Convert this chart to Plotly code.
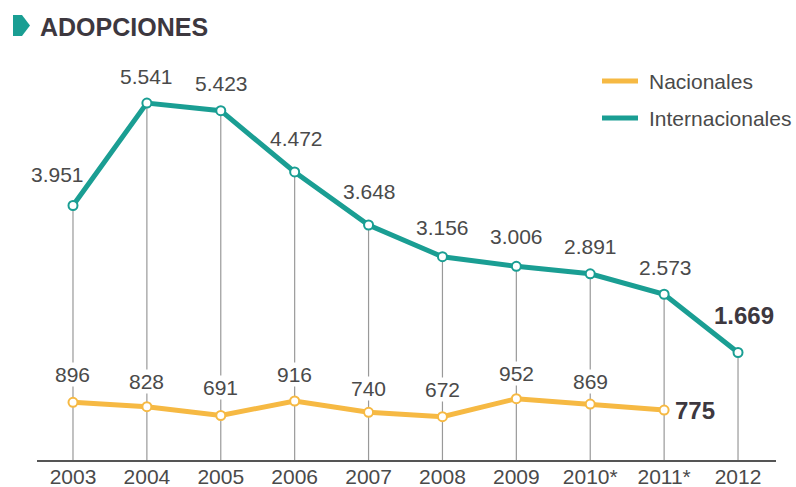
import plotly.graph_objects as go

# ---------------- data ----------------
years = ["2003", "2004", "2005", "2006", "2007", "2008", "2009", "2010*", "2011*", "2012"]
internacionales = [3951, 5541, 5423, 4472, 3648, 3156, 3006, 2891, 2573, 1669]
nacionales = [896, 828, 691, 916, 740, 672, 952, 869, 775, None]

# ---------------- style ----------------
W, H = 796, 487
ML, MR, MT, MB = 37, 20, 40, 27
TEAL = "#1a9e93"
YELLOW = "#f6b943"
TXT = "#4a4a4a"
DARK = "#3d383f"
GRAY = "#999999"
FONT = "Liberation Sans, Arial, Helvetica, sans-serif"
FS = 21

# label offsets (pixels) above each point
int_dy = [31, 27, 27, 33, 34, 29, 30, 27, 27, 37]
int_dx = [-15, 0, 1, 2, 1, 0, 0, 0, 1, 6]
nac_dy = [28, 25, 28, 26, 24, 27, 25, 23, 0]
nac_dx = [0, 0, 0, 0, 0, 0, 0, 0, 31]


def fmt(v):
    return f"{v:,}".replace(",", ".")


def px2x(px):
    return (px - ML) / (W - ML - MR)


def px2y(py):
    return (H - MB - py) / (H - MT - MB)


xs = list(range(len(years)))

fig = go.Figure()

# drop lines from each international point down to the axis
dx, dy = [], []
for i, v in enumerate(internacionales):
    dx += [i, i, None]
    dy += [0, v, None]
fig.add_trace(go.Scatter(x=dx, y=dy, mode="lines",
                         line=dict(color=GRAY, width=1.2), hoverinfo="skip",
                         showlegend=False))

nac_x = [i for i, v in enumerate(nacionales) if v is not None]
nac_y = [v for v in nacionales if v is not None]

fig.add_trace(go.Scatter(x=nac_x, y=nac_y, mode="lines+markers", name="Nacionales",
                         line=dict(color=YELLOW, width=5),
                         marker=dict(size=9, color="white",
                                     line=dict(color=YELLOW, width=2)),
                         showlegend=False))
fig.add_trace(go.Scatter(x=xs, y=internacionales, mode="lines+markers",
                         name="Internacionales",
                         line=dict(color=TEAL, width=5),
                         marker=dict(size=9, color="white",
                                     line=dict(color=TEAL, width=2)),
                         showlegend=False))

ann = []
last_int = len(internacionales) - 1
for i, v in enumerate(internacionales):
    bold = i == last_int
    ann.append(dict(x=i, y=v, xref="x", yref="y",
                    text=f"<b>{fmt(v)}</b>" if bold else fmt(v),
                    showarrow=False, xanchor="center", yanchor="middle",
                    xshift=int_dx[i], yshift=int_dy[i],
                    font=dict(family=FONT, size=24 if bold else FS,
                              color=DARK if bold else TXT)))
last_nac = len(nac_y) - 1
for j, (i, v) in enumerate(zip(nac_x, nac_y)):
    bold = j == last_nac
    ann.append(dict(x=i, y=v, xref="x", yref="y",
                    text=f"<b>{fmt(v)}</b>" if bold else fmt(v),
                    showarrow=False, xanchor="center", yanchor="middle",
                    xshift=nac_dx[j], yshift=nac_dy[j],
                    bgcolor=None if bold else "white", borderpad=0,
                    font=dict(family=FONT, size=24 if bold else FS,
                              color=DARK if bold else TXT)))

# title
ann.append(dict(x=px2x(38), y=px2y(27), xref="paper", yref="paper",
                text="<b>ADOPCIONES</b>", showarrow=False,
                xanchor="left", yanchor="middle",
                font=dict(family=FONT, size=25, color=DARK)))

# legend texts
ann.append(dict(x=px2x(647), y=px2y(81), xref="paper", yref="paper",
                text="Nacionales", showarrow=False, xanchor="left", yanchor="middle",
                font=dict(family=FONT, size=FS, color=TXT)))
ann.append(dict(x=px2x(647), y=px2y(118), xref="paper", yref="paper",
                text="Internacionales", showarrow=False, xanchor="left", yanchor="middle",
                font=dict(family=FONT, size=FS, color=TXT)))

shapes = []
# title icon
pts = [(13, 15), (22, 15), (30, 25.5), (22, 36), (13, 36)]
path = "M " + " L ".join(f"{px2x(a):.5f},{px2y(b):.5f}" for a, b in pts) + " Z"
shapes.append(dict(type="path", path=path, xref="paper", yref="paper",
                   fillcolor=TEAL, line=dict(width=0)))
# legend swatches
for yy, col in [(81, YELLOW), (118, TEAL)]:
    shapes.append(dict(type="line", xref="paper", yref="paper",
                       x0=px2x(602), x1=px2x(638), y0=px2y(yy), y1=px2y(yy),
                       line=dict(color=col, width=5)))

fig.update_layout(
    width=W, height=H,
    margin=dict(l=ML, r=MR, t=MT, b=MB, autoexpand=False),
    paper_bgcolor="white", plot_bgcolor="white",
    showlegend=False,
    annotations=ann, shapes=shapes,
    xaxis=dict(range=[-0.487, 9.514], tickmode="array", tickvals=xs, ticktext=years,
               showgrid=False, zeroline=False, showline=True, linecolor="#555555",
               linewidth=2, ticks="", tickfont=dict(family=FONT, size=FS, color=TXT),
               ticklabelstandoff=-3,
               automargin=False, fixedrange=True),
    yaxis=dict(range=[0, 6520], visible=False, showgrid=False, zeroline=False,
               automargin=False, fixedrange=True),
)

fig.write_html("out.html", config={"displayModeBar": False},
               post_script="document.body.style.margin='0';document.body.style.overflow='hidden';")
